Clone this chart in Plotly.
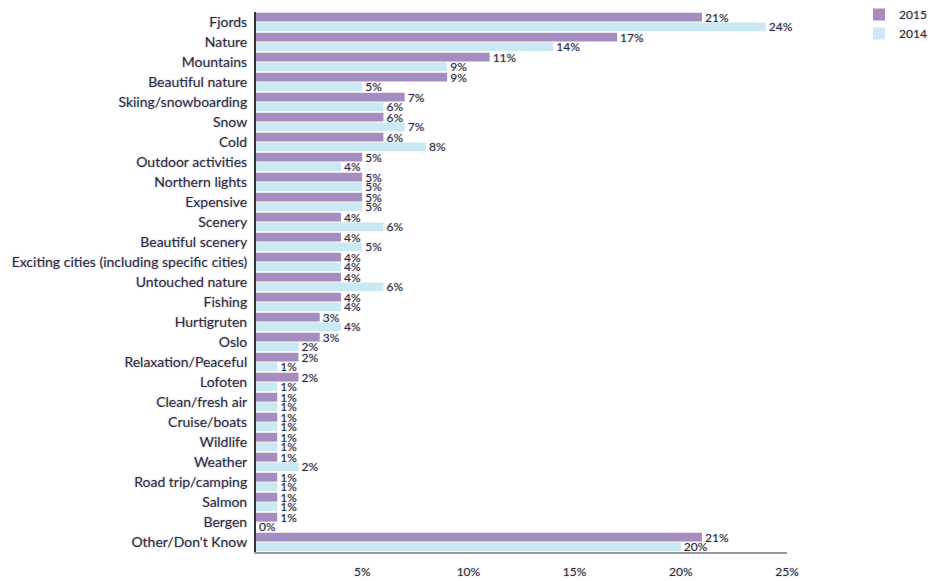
import plotly.graph_objects as go

categories = [
    "Fjords", "Nature", "Mountains", "Beautiful nature", "Skiing/snowboarding",
    "Snow", "Cold", "Outdoor activities", "Northern lights", "Expensive",
    "Scenery", "Beautiful scenery", "Exciting cities (including specific cities)",
    "Untouched nature", "Fishing", "Hurtigruten", "Oslo", "Relaxation/Peaceful",
    "Lofoten", "Clean/fresh air", "Cruise/boats", "Wildlife", "Weather",
    "Road trip/camping", "Salmon", "Bergen", "Other/Don't Know",
]
values_2015 = [21, 17, 11, 9, 7, 6, 6, 5, 5, 5, 4, 4, 4, 4, 4, 3, 3, 2, 2, 1, 1, 1, 1, 1, 1, 1, 21]
values_2014 = [24, 14, 9, 5, 6, 7, 8, 4, 5, 5, 6, 5, 4, 6, 4, 4, 2, 1, 1, 1, 1, 1, 2, 1, 1, 0, 20]
x_ticks = [5, 10, 15, 20, 25]
x_tick_labels = ["5%", "10%", "15%", "20%", "25%"]

FONT = "Lato"
TXT = "#2b2b45"
C2015 = "#a68dc0"
C2014 = "#cbe9f2"
HALO = "0px 0px 2px #b0b0b0"

fig = go.Figure()
for name, vals, col in [("2015", values_2015, C2015), ("2014", values_2014, C2014)]:
    fig.add_trace(go.Bar(
        name=name, y=categories, x=vals, orientation="h",
        marker=dict(color=col, line=dict(width=0)),
        text=[f"{v}%" for v in vals], texttemplate="%{text}",
        textposition="outside", cliponaxis=False, constraintext="none",
        textfont=dict(family=FONT, size=12, color=TXT, shadow=HALO),
    ))

fig.update_layout(
    width=932, height=581,
    margin=dict(l=256, r=145, t=12, b=29, autoexpand=False),
    barmode="group", bargap=0.04, bargroupgap=0.08,
    plot_bgcolor="white", paper_bgcolor="white",
    font=dict(family=FONT, size=12, color=TXT),
    legend=dict(xref="container", x=1.0, y=1.0, xanchor="right", yanchor="top",
                yref="container",
                font=dict(family=FONT, size=12, color=TXT, shadow=HALO),
                itemwidth=30, tracegroupgap=0, bgcolor="rgba(0,0,0,0)"),
    xaxis=dict(range=[0, 25], tickvals=x_ticks, ticktext=x_tick_labels,
               showgrid=False, zeroline=False, automargin=False,
               showline=True, linecolor="#9a9a9a", linewidth=2,
               ticks="", ticklabelstandoff=8,
               tickfont=dict(family=FONT, size=12, color=TXT, shadow=HALO)),
    yaxis=dict(autorange="reversed", showgrid=False, zeroline=False,
               automargin=False,
               showline=True, linecolor="#333333", linewidth=2,
               ticks="", ticklabelstandoff=4,
               tickfont=dict(family=FONT, size=14, color=TXT, shadow=HALO)),
)

fig.write_html("out.html")
